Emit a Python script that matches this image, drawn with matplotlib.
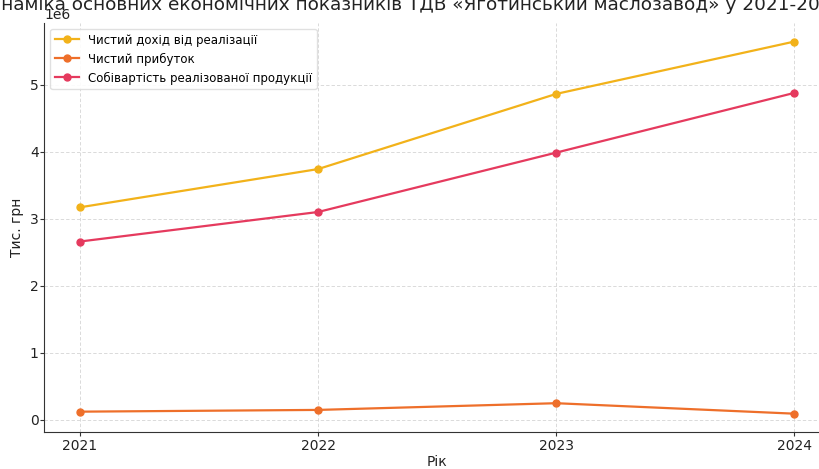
import matplotlib
matplotlib.use("Agg")
import matplotlib.pyplot as plt

# --- дані ---
years = [2021, 2022, 2023, 2024]
revenue = [3.17e6, 3.74e6, 4.86e6, 5.64e6]       # Чистий дохід від реалізації
profit = [0.124e6, 0.150e6, 0.250e6, 0.094e6]     # Чистий прибуток
cost = [2.66e6, 3.10e6, 3.985e6, 4.875e6]         # Собівартість реалізованої продукції

labels = ["Чистий дохід від реалізації", "Чистий прибуток",
          "Собівартість реалізованої продукції"]
colors = ["#f2b21a", "#ee6f2a", "#e53a5e"]

title = "Динаміка основних економічних показників ТДВ «Яготинський маслозавод» у 2021-2024 рр."

fig = plt.figure(figsize=(8.19, 4.69), dpi=100)
ax = fig.add_axes([0.0541, 0.0783, 1.0134 - 0.0541, 0.951 - 0.0783])

for vals, lab, col in zip([revenue, profit, cost], labels, colors):
    ax.plot(years, vals, marker="o", markersize=5, linewidth=1.6, color=col, label=lab)

ax.set_xticks(years)
ax.grid(True, linestyle=(0, (4, 2.5)), color="#d4d4d4", linewidth=0.6)
ax.spines["top"].set_visible(False)
ax.spines["right"].set_visible(False)
ax.spines["left"].set_color("#333333")
ax.spines["bottom"].set_color("#333333")
ax.tick_params(labelsize=10, length=3, color="#333333", labelcolor="#222222")
ax.tick_params(axis="x", pad=2)
ax.tick_params(axis="y", pad=1)

ax.set_xlabel("Рік", fontsize=10, color="#222222", labelpad=1.5)
ax.set_ylabel("Тис. грн", fontsize=10, color="#222222", labelpad=4)
ax.set_title(title, fontsize=13.3, x=0.487, y=1.032, pad=0, color="#222222")

ax.legend(loc="upper left", fontsize=8.5, framealpha=0.9, edgecolor="#dddddd")

fig.savefig("out.png", dpi=100)
